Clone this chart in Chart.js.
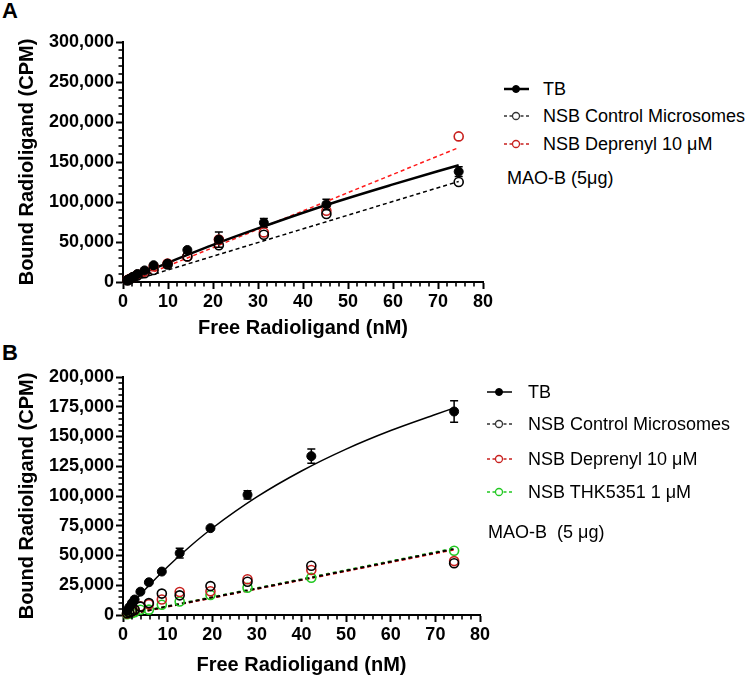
<!DOCTYPE html>
<html><head><meta charset="utf-8">
<script src="https://cdn.jsdelivr.net/npm/chart.js@4/dist/chart.umd.min.js"></script>
<style>
body{margin:0;background:#fff;width:749px;height:678px;position:relative;overflow:hidden;font-family:"Liberation Sans",Arial,sans-serif;}
canvas{position:absolute;left:0;}
.panel{position:absolute;font-weight:bold;font-size:22px;line-height:22px;color:#000;}
.leg{position:absolute;font-size:18px;line-height:20px;height:20px;white-space:pre;color:#000;}
.leg svg{position:absolute;left:0;top:0;}
.leg span{position:absolute;top:0;}
</style></head><body>
<div class="panel" style="left:2px;top:0px;">A</div>
<div class="panel" style="left:2px;top:342px;">B</div>
<canvas id="cA" width="500" height="345" style="top:0px"></canvas>
<canvas id="cB" width="500" height="340" style="top:338px"></canvas>
<script>
// ---------- DATA ----------
const xTicks = [0, 10, 20, 30, 40, 50, 60, 70, 80];
const yTicksA = [0, 50000, 100000, 150000, 200000, 250000, 300000];
const yTicksB = [0, 25000, 50000, 75000, 100000, 125000, 150000, 175000, 200000];

// Panel A : free radioligand (nM)
const xA      = [1.0, 1.5, 2.2, 3.2, 4.8, 6.8, 9.9, 14.3, 21.3, 31.3, 45.2, 74.6];
const tbA     = [2500, 4000, 6500, 10000, 14500, 21000, 23000, 40000, 53000, 74000, 97000, 138000];
const tbErrA  = [0, 0, 0, 0, 0, 0, 0, 0, 9500, 5500, 6500, 6000];
const ctrlA   = [2000, 3500, 5500, 8000, 11000, 15000, 22000, 32000, 46000, 59000, 85000, 125000];
const depA    = [2500, 4000, 6000, 9000, 13000, 19500, 23000, 32000, 53000, 62000, 89000, 182000];
// fitted curves, panel A
const fitTbAx   = [1.0, 5, 10, 15, 20, 30, 45, 60, 74.6];
const fitTbAy   = [2500, 12500, 24000, 35500, 46500, 67000, 96000, 122000, 146000];
const fitCtrlAx = [1.2, 74.6];
const fitCtrlAy = [0, 125700];
const fitDepAx  = [1.2, 74.6];
const fitDepAy  = [0, 168000];

// Panel B
const xB      = [0.9, 1.4, 2.0, 2.6, 3.9, 5.8, 8.7, 12.7, 19.6, 27.9, 42.2, 74.2];
const tbB     = [3600, 6500, 10000, 13000, 19600, 27500, 36500, 52000, 73000, 101000, 133500, 171000];
const tbErrB  = [0, 0, 0, 0, 0, 0, 0, 4000, 0, 3500, 6000, 9000];
const ctrlB   = [1500, 2200, 3200, 4500, 7000, 10000, 18000, 16500, 24300, 28000, 41400, 43500];
const depB    = [1300, 2000, 3000, 4200, 7400, 9000, 13000, 19300, 20000, 30000, 37800, 45300];
const thkB    = [600, 1000, 1600, 2300, 4400, 4500, 8600, 11300, 16800, 22900, 31300, 54000];
const fitTbBx   = [0.9, 2, 5, 10, 15, 20, 30, 40, 50, 60, 70, 74.2];
const fitTbBy   = [3500, 9000, 21600, 40600, 57600, 72900, 99200, 121000, 139400, 155000, 168500, 174000];
const fitCtrlBx = [0.9, 74.2];
const fitCtrlBy = [300, 55500];
const fitDepBx  = [0.9, 74.2];
const fitDepBy  = [200, 55000];
const fitThkBx  = [0.9, 74.2];
const fitThkBy  = [600, 56000];

const legendA = ['TB', 'NSB Control Microsomes', 'NSB Deprenyl 10 \u03bcM'];
const noteA = 'MAO-B (5\u03bcg)';
const legendB = ['TB', 'NSB Control Microsomes', 'NSB Deprenyl 10 \u03bcM', 'NSB THK5351 1 \u03bcM'];
const noteB = 'MAO-B  (5 \u03bcg)';

// ---------- STYLE ----------
const FONT = '"Liberation Sans", Arial, sans-serif';
const BLACK = '#000000', RED_LINE = '#ff1a1a', RED_PT = '#c8201e', GREEN = '#1fcc1f', GREEN_PT = '#22c822';

const pts = (xs, ys) => xs.map((x, i) => ({x: x, y: ys[i]}));
const fmt = v => String(v).replace(/\B(?=(\d{3})+(?!\d))/g, ',');

const minorTicks = {
  id: 'minorTicks',
  afterDraw(chart, args, o) {
    const ctx = chart.ctx, xs = chart.scales.x, ys = chart.scales.y;
    ctx.save(); ctx.strokeStyle = '#000'; ctx.lineWidth = 1.6;
    for (let v = o.xStep; v < xs.max; v += o.xStep) {
      if (Math.abs(v % o.xMajor) < 1e-6) continue;
      const p = Math.round(xs.getPixelForValue(v)) ;
      ctx.beginPath(); ctx.moveTo(p, ys.bottom); ctx.lineTo(p, ys.bottom + 4.5); ctx.stroke();
    }
    for (let v = o.yStep; v < ys.max; v += o.yStep) {
      if (Math.abs(v % o.yMajor) < 1e-6) continue;
      const p = Math.round(ys.getPixelForValue(v));
      ctx.beginPath(); ctx.moveTo(xs.left - 4.5, p); ctx.lineTo(xs.left, p); ctx.stroke();
    }
    ctx.restore();
  }
};

const errorBars = {
  id: 'errorBars',
  beforeDatasetsDraw(chart) {
    const ctx = chart.ctx, xs = chart.scales.x, ys = chart.scales.y;
    chart.data.datasets.forEach(ds => {
      if (!ds.errors) return;
      ctx.save(); ctx.strokeStyle = '#000'; ctx.lineWidth = 1.5;
      ds.data.forEach((d, j) => {
        const e = ds.errors[j]; if (!e) return;
        const px = xs.getPixelForValue(d.x);
        const t = ys.getPixelForValue(d.y + e), b = ys.getPixelForValue(d.y - e);
        ctx.beginPath();
        ctx.moveTo(px, t); ctx.lineTo(px, b);
        ctx.moveTo(px - 4, t); ctx.lineTo(px + 4, t);
        ctx.moveTo(px - 4, b); ctx.lineTo(px + 4, b);
        ctx.stroke();
      });
      ctx.restore();
    });
  }
};

function lineDs(xs, ys, color, width, dash) {
  return {type: 'line', data: pts(xs, ys), borderColor: color, borderWidth: width, borderDash: dash || [],
    pointRadius: 0, fill: false, showLine: true, cubicInterpolationMode: 'monotone', clip: false, order: 2};
}
function ptDs(xs, ys, color, filled, errs) {
  return {type: 'scatter', data: pts(xs, ys), borderColor: color, backgroundColor: filled ? color : 'rgba(0,0,0,0)',
    pointRadius: 4.5, pointBorderWidth: filled ? 1 : 1.6, showLine: false, clip: false, errors: errs, order: 1};
}

function axes(yTicks, yMax, titlePadBottom) {
  return {
    x: {type: 'linear', min: 0, max: 80,
      afterBuildTicks: s => { s.ticks = xTicks.map(v => ({value: v})); },
      afterFit: s => { s.height = 63; },
      ticks: {font: {family: FONT, size: 18, weight: 'bold'}, color: '#000', padding: 2, maxRotation: 0},
      grid: {drawOnChartArea: false, drawTicks: true, tickLength: 7, tickWidth: 2, tickColor: '#000'},
      border: {display: true, color: '#000', width: 2},
      title: {display: true, text: 'Free Radioligand (nM)', color: '#000',
        font: {family: FONT, size: 20, weight: 'bold'}, padding: {top: 0, bottom: titlePadBottom}}
    },
    y: {type: 'linear', min: 0, max: yMax,
      afterBuildTicks: s => { s.ticks = yTicks.map(v => ({value: v})); },
      afterFit: s => { s.width = 123; },
      ticks: {font: {family: FONT, size: 18, weight: 'bold'}, color: '#000', padding: 2, callback: v => fmt(v)},
      grid: {drawOnChartArea: false, drawTicks: true, tickLength: 7, tickWidth: 2, tickColor: '#000'},
      border: {display: true, color: '#000', width: 2},
      title: {display: true, text: 'Bound Radioligand (CPM)', color: '#000',
        font: {family: FONT, size: 20, weight: 'bold'}, padding: {top: 15, bottom: 0}}
    }
  };
}

Chart.defaults.animation = false;

new Chart(document.getElementById('cA'), {
  type: 'scatter',
  data: {datasets: [
    lineDs(fitTbAx, fitTbAy, BLACK, 2.5),
    lineDs(fitCtrlAx, fitCtrlAy, BLACK, 1.5, [4, 3]),
    lineDs(fitDepAx, fitDepAy, RED_LINE, 1.5, [4, 3]),
    ptDs(xA, tbA, BLACK, true, tbErrA),
    ptDs(xA, ctrlA, BLACK, false),
    ptDs(xA, depA, RED_PT, false)
  ]},
  options: {responsive: false, animation: false,
    layout: {padding: {left: 0, right: 17, top: 42, bottom: 0}},
    plugins: {legend: {display: false}, tooltip: {enabled: false},
      minorTicks: {xStep: 2, xMajor: 10, yStep: 10000, yMajor: 50000}},
    scales: axes(yTicksA, 300000, 5)
  },
  plugins: [minorTicks, errorBars]
});

new Chart(document.getElementById('cB'), {
  type: 'scatter',
  data: {datasets: [
    lineDs(fitTbBx, fitTbBy, BLACK, 1.5),
    lineDs(fitCtrlBx, fitCtrlBy, BLACK, 2, [4, 3]),
    lineDs(fitDepBx, fitDepBy, RED_LINE, 2, [4, 3]),
    lineDs(fitThkBx, fitThkBy, GREEN, 2, [3, 4]),
    ptDs(xB, tbB, BLACK, true, tbErrB),
    ptDs(xB, ctrlB, BLACK, false),
    ptDs(xB, depB, RED_PT, false),
    ptDs(xB, thkB, GREEN_PT, false)
  ]},
  options: {responsive: false, animation: false,
    layout: {padding: {left: 0, right: 20, top: 39, bottom: 0}},
    plugins: {legend: {display: false}, tooltip: {enabled: false},
      minorTicks: {xStep: 2, xMajor: 10, yStep: 5000, yMajor: 25000}},
    scales: axes(yTicksB, 200000, 1)
  },
  plugins: [minorTicks, errorBars]
});

// ---------- HTML legends ----------
function icon(kind, color, thick) {
  const dash = kind === 'solid' ? '' : 'stroke-dasharray="3,2.5"';
  const lw = kind === 'solid' ? thick : 1.3;
  const circ = kind === 'solid'
    ? `<circle cx="13" cy="10" r="3.5" fill="${color}" stroke="${color}" stroke-width="1"/>`
    : `<circle cx="13" cy="10" r="3.5" fill="#fff" stroke="${color}" stroke-width="1.3"/>`;
  return `<svg width="27" height="20" viewBox="0 0 27 20"><line x1="1" y1="10" x2="26" y2="10" stroke="${color}" stroke-width="${lw}" ${dash}/>${circ}</svg>`;
}
function legend(labels, kinds, ys, iconLeft, textLeft, thick, note, noteX, noteY) {
  labels.forEach((t, i) => {
    const d = document.createElement('div');
    d.className = 'leg';
    d.style.left = iconLeft + 'px'; d.style.top = (ys[i] - 10) + 'px';
    d.innerHTML = icon(kinds[i][0], kinds[i][1], thick) + `<span style="left:${textLeft - iconLeft}px"></span>`;
    d.querySelector('span').textContent = t;
    document.body.appendChild(d);
  });
  const n = document.createElement('div');
  n.className = 'leg'; n.style.left = noteX + 'px'; n.style.top = (noteY - 10) + 'px';
  n.textContent = note;
  document.body.appendChild(n);
}
legend(legendA, [['solid', BLACK], ['dash', '#333'], ['dash', RED_PT]], [89, 116, 144], 503, 543, 2.5, noteA, 507, 178);
legend(legendB, [['solid', BLACK], ['dash', '#333'], ['dash', RED_PT], ['dash', GREEN_PT]], [392, 424, 459, 492], 486, 528, 1.5, noteB, 488, 532);
</script>
</body></html>
